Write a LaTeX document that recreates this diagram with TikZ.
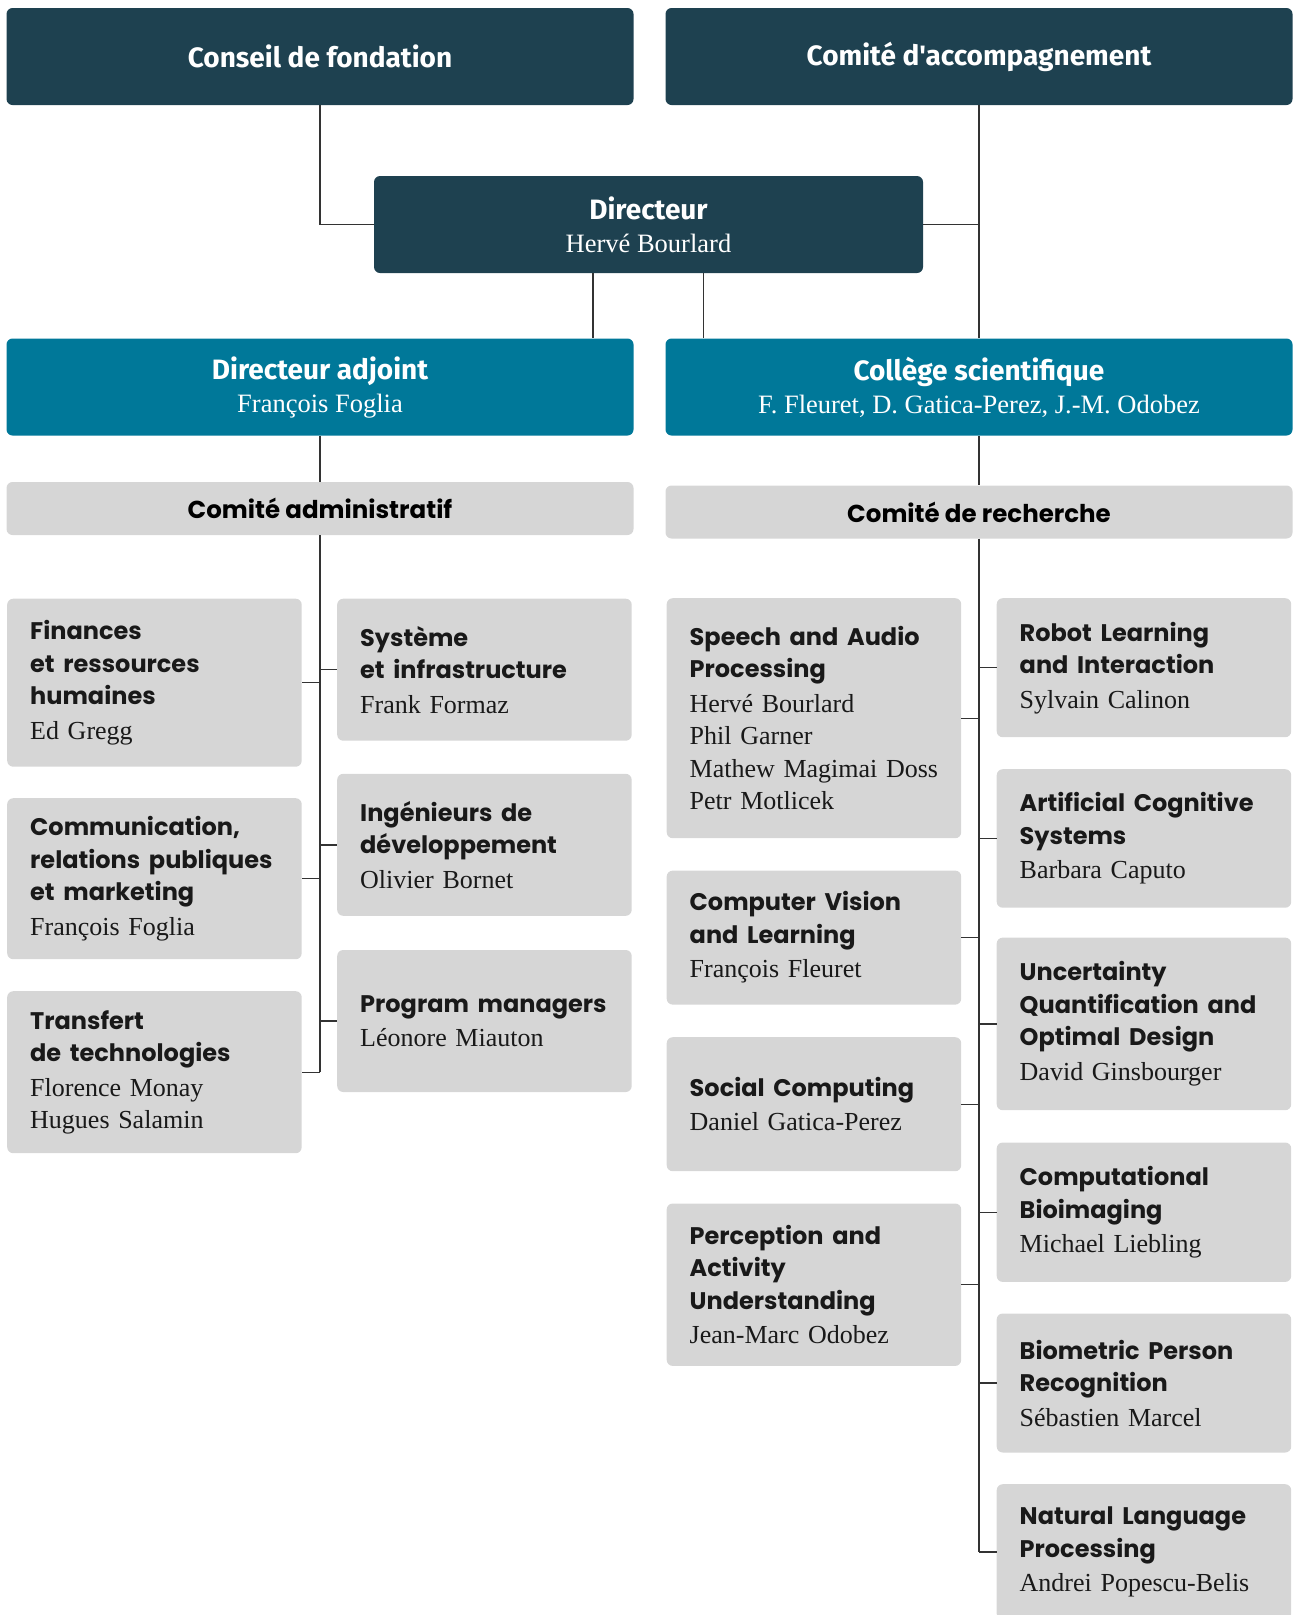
\documentclass[tikz,border=0pt]{standalone}
\usepackage{fontspec}
\setmainfont{Liberation Serif}
\newfontfamily\headfont{Poppins}
\newfontfamily\boardfont{Fira Sans}
\usetikzlibrary{positioning,calc}
\definecolor{idiapdark}{RGB}{30,65,80}
\definecolor{idiapblue}{RGB}{0,120,153}
\definecolor{idiapgray}{RGB}{214,214,214}
\definecolor{linegray}{RGB}{51,51,51}

\newcommand{\boxtitle}[1]{{\headfont\bfseries\fontsize{24}{32.5}\selectfont #1}}
\newcommand{\boardtitle}[1]{{\boardfont\bfseries\fontsize{28}{33}\selectfont #1}}

\begin{document}
\begin{tikzpicture}[
        x=1pt, y=-1pt,
        every node/.style={inner sep=0pt},
        board/.style={rectangle, rounded corners=6pt, fill=idiapdark, text=white,
            minimum width=627pt, minimum height=97pt, align=center,
            font=\fontsize{26.5}{33}\selectfont},
        deputy/.style={board, fill=idiapblue},
        header/.style={rectangle, rounded corners=6pt, fill=idiapgray,
            minimum width=627pt, minimum height=53pt,
            font=\headfont\bfseries\fontsize{24.5}{30}\selectfont},
        unit/.style={rectangle, rounded corners=6pt, fill=idiapgray, anchor=north west,
            inner xsep=23pt, text width=248.5pt, align=left, text=black!90,
            font={\fontsize{26}{32.5}\selectfont\hyphenpenalty 10000\relax}},
        link/.style={draw=linegray, line width=1.4pt}
    ]
        \useasboundingbox (0,0) rectangle (1297,1615);

        % Boards
        \node[board] (conseil) at (320,56.5) {\boardtitle{Conseil de fondation}};
        \node[board] (comite) at (979,56.5) {\boardtitle{Comité d'accompagnement}};
        \node[board, minimum width=549pt] (dir) at (648.5,224.5)
            {\boardtitle{Directeur}\\Hervé Bourlard};

        % Second level
        \node[deputy] (adjoint) at (320,387)
            {\boardtitle{Directeur adjoint}\\François Foglia};
        \node[deputy] (college) at (979,387)
            {\boardtitle{Collège scientifique}\\F. Fleuret, D. Gatica-Perez, J.-M. Odobez};

        % Committees
        \node[header] (admhead) at (320,508.5) {Comité administratif};
        \node[header] (rechead) at (979,512) {Comité de recherche};

        % Administration units
        \node[unit, minimum height=168pt] (fin) at (7,598.5)
            {\boxtitle{Finances\\et ressources\\humaines}\\[2pt]Ed Gregg};
        \node[unit, minimum height=161pt] (comm) at (7,798)
            {\boxtitle{Communication,\\relations publiques\\et marketing}\\[2pt]François Foglia};
        \node[unit, minimum height=162pt] (trans) at (7,991)
            {\boxtitle{Transfert\\de technologies}\\[2pt]Florence Monay\\Hugues Salamin};
        \node[unit, minimum height=142pt] (sys) at (337,598.5)
            {\boxtitle{Système\\et infrastructure}\\[2pt]Frank Formaz};
        \node[unit, minimum height=142pt] (inge) at (337,773.6)
            {\boxtitle{Ingénieurs de\\développement}\\[2pt]Olivier Bornet};
        \node[unit, minimum height=142pt] (prog) at (337,949.8)
            {\boxtitle{Program managers}\\[2pt]Léonore Miauton};

        % Research groups
        \node[unit, minimum height=240pt] (speech) at (666.5,598)
            {\boxtitle{Speech and Audio\\Processing}\\[2pt]Hervé Bourlard\\Phil Garner\\Mathew Magimai Doss\\Petr Motlicek};
        \node[unit, minimum height=134pt] (vision) at (666.5,870.4)
            {\boxtitle{Computer Vision\\and Learning}\\[2pt]François Fleuret};
        \node[unit, minimum height=134pt] (social) at (666.5,1037)
            {\boxtitle{Social Computing}\\[2pt]Daniel Gatica-Perez};
        \node[unit, minimum height=162.4pt] (percep) at (666.5,1203.3)
            {\boxtitle{Perception and\\Activity\\Understanding}\\[2pt]Jean-Marc Odobez};
        \node[unit, minimum height=139pt] (robot) at (996.5,598)
            {\boxtitle{Robot Learning\\and Interaction}\\[2pt]Sylvain Calinon};
        \node[unit, minimum height=138.5pt] (cogsys) at (996.5,769)
            {\boxtitle{Artificial Cognitive\\Systems}\\[2pt]Barbara Caputo};
        \node[unit, minimum height=172.6pt] (uncert) at (996.5,937.4)
            {\boxtitle{Uncertainty\\Quantification and\\Optimal Design}\\[2pt]David Ginsbourger};
        \node[unit, minimum height=139.4pt] (bioimg) at (996.5,1142.3)
            {\boxtitle{Computational\\Bioimaging}\\[2pt]Michael Liebling};
        \node[unit, minimum height=139pt] (biomet) at (996.5,1313.3)
            {\boxtitle{Biometric Person\\Recognition}\\[2pt]Sébastien Marcel};
        \node[unit, minimum height=135.4pt] (nlp) at (996.5,1484)
            {\boxtitle{Natural Language\\Processing}\\[2pt]Andrei Popescu-Belis};

        % Links between boards
        \draw[link] (conseil.south) |- (dir.west);
        \draw[link] (comite.south) -- (college.north);
        \draw[link] (dir.east) -- (dir.east -| comite.south);
        \draw[link] ([xshift=-55.5pt]dir.south) -- ([xshift=-55.5pt]dir.south |- adjoint.north);
        \draw[link] ([xshift=55pt]dir.south) -- ([xshift=55pt]dir.south |- college.north);
        \draw[link] (adjoint.south) -- (admhead.north);
        \draw[link] (college.south) -- (rechead.north);

        % Administration tree
        \draw[link] (admhead.south) -- (admhead.south |- trans.east);
        \foreach \u in {fin, comm, trans}
            \draw[link] (admhead.south |- \u.east) -- (\u.east);
        \foreach \u in {sys, inge, prog}
            \draw[link] (admhead.south |- \u.west) -- (\u.west);

        % Research tree
        \draw[link] (rechead.south) -- (rechead.south |- nlp.west);
        \foreach \u in {speech, vision, social, percep}
            \draw[link] (rechead.south |- \u.east) -- (\u.east);
        \foreach \u in {robot, cogsys, uncert, bioimg, biomet, nlp}
            \draw[link] (rechead.south |- \u.west) -- (\u.west);
    \end{tikzpicture}
\end{document}
